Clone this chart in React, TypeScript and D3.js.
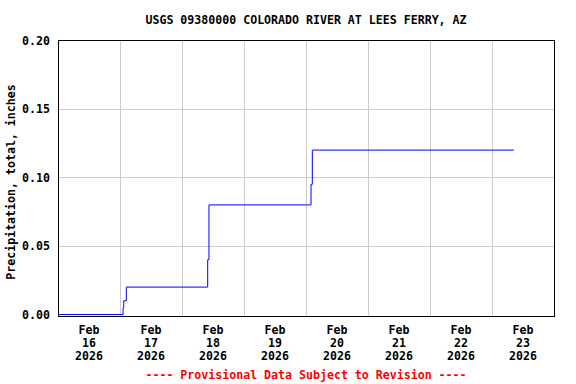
import React from "react";
import * as d3 from "d3";

const TITLE = "USGS 09380000 COLORADO RIVER AT LEES FERRY, AZ";
const Y_LABEL = "Precipitation, total, inches";
const FOOTNOTE = "---- Provisional Data Subject to Revision ----";

const obsTimes = [
  "2026-02-16T00:00:00Z",
  "2026-02-17T01:00:00Z",
  "2026-02-17T01:15:00Z",
  "2026-02-17T02:15:00Z",
  "2026-02-18T09:45:00Z",
  "2026-02-18T10:15:00Z",
  "2026-02-20T01:45:00Z",
  "2026-02-20T02:15:00Z",
  "2026-02-23T08:15:00Z",
];
const obsValues = [0, 0.005, 0.01, 0.02, 0.04, 0.08, 0.095, 0.12, 0.12];

const yTicks = [0, 0.05, 0.1, 0.15, 0.2];
const dayLabels = ["16", "17", "18", "19", "20", "21", "22", "23"];
const monthLabel = "Feb";
const yearLabel = "2026";

const W = 576;
const H = 384;
const M = { left: 58, right: 554, top: 40, bottom: 314 };
const FONT = "'DejaVu Sans Mono', monospace";
const FS = 11.6;

export default function App() {
  const x = d3
    .scaleUtc()
    .domain([new Date("2026-02-16T00:00:00Z"), new Date("2026-02-24T00:00:00Z")])
    .range([M.left, M.right]);
  const y = d3.scaleLinear().domain([0, 0.2]).range([M.bottom, M.top]);

  const data = obsTimes.map((t, i) => ({ t: new Date(t), v: obsValues[i] }));
  const line = d3
    .line<{ t: Date; v: number }>()
    .x((d) => x(d.t))
    .y((d) => y(d.v))
    .curve(d3.curveStepAfter);

  const midnights = d3.utcDay.range(
    new Date("2026-02-17T00:00:00Z"),
    new Date("2026-02-24T00:00:00Z")
  );
  const noons = dayLabels.map(
    (d) => new Date(`2026-02-${d}T12:00:00Z`)
  );

  return (
    <svg
      width={W}
      height={H}
      style={{ position: "absolute", left: 0, top: 0, background: "#fff" }}
      fontFamily={FONT}
      fontWeight="bold"
      fontSize={FS}
    >
      <rect x={0} y={0} width={W} height={H} fill="#fff" />
      <text x={(M.left + M.right) / 2} y={24} textAnchor="middle" fill="#000">
        {TITLE}
      </text>
      <g transform="translate(0.5,0.5)">
        {yTicks
          .filter((t) => t > 0 && t < 0.2)
          .map((t) => (
            <line
              key={"gy" + t}
              x1={M.left}
              x2={M.right}
              y1={Math.round(y(t))}
              y2={Math.round(y(t))}
              stroke="#cccccc"
            />
          ))}
        {midnights.map((d, i) => (
          <line
            key={"gx" + i}
            x1={Math.round(x(d))}
            x2={Math.round(x(d))}
            y1={M.top}
            y2={M.bottom + 2}
            stroke="#cccccc"
          />
        ))}
        <path d={line(data) || ""} fill="none" stroke="#0000ff" strokeWidth={1} />
        <rect
          x={M.left}
          y={M.top}
          width={M.right - M.left}
          height={M.bottom + 2 - M.top}
          fill="none"
          stroke="#000"
        />
      </g>
      {yTicks.map((t) => (
        <text key={"yl" + t} x={50} y={y(t) + 4.5} textAnchor="end" fill="#000">
          {t.toFixed(2)}
        </text>
      ))}
      <text
        transform={`translate(15,182) rotate(-90)`}
        textAnchor="middle"
        fill="#000"
      >
        {Y_LABEL}
      </text>
      {noons.map((d, i) => (
        <g key={"xl" + i} transform={`translate(${x(d)},0)`}>
          <text y={334} textAnchor="middle" fill="#000">
            {monthLabel}
          </text>
          <text y={347} textAnchor="middle" fill="#000">
            {dayLabels[i]}
          </text>
          <text y={360} textAnchor="middle" fill="#000">
            {yearLabel}
          </text>
        </g>
      ))}
      <text x={(M.left + M.right) / 2} y={379} textAnchor="middle" fill="#ff0000">
        {FOOTNOTE}
      </text>
    </svg>
  );
}
